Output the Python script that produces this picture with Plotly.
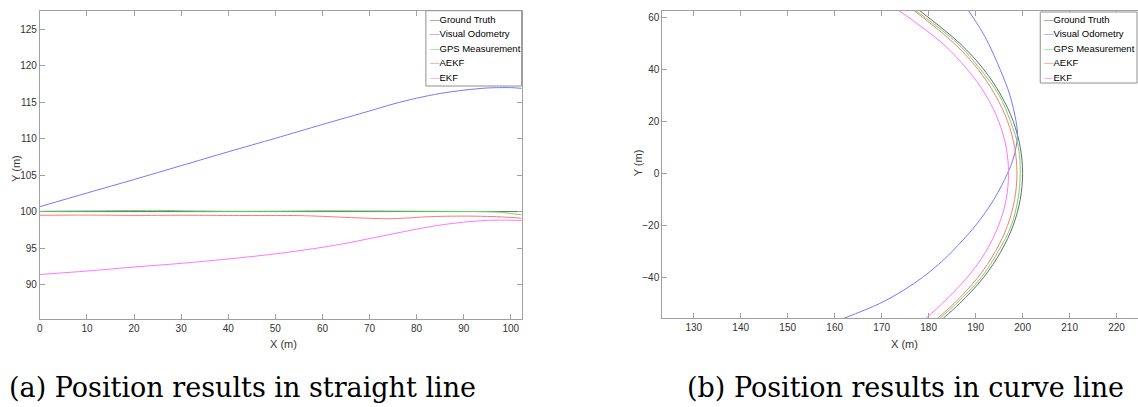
import plotly.graph_objects as go

W, H = 1138, 407

# ---------------- Panel (a): straight line ----------------
a_gt_x = [0, 102.3]
a_gt_y = [100, 100]
a_vo_x = [0, 10, 20, 30, 40, 50, 60, 70, 75, 80, 85, 90, 95, 100, 102.3]
a_vo_y = [100.68, 102.55, 104.4, 106.3, 108.2, 110.05, 111.95, 113.8, 114.75, 115.55, 116.2, 116.65, 116.95, 117.0, 116.9]
a_gps_x = [0, 10, 20, 25, 30, 40, 50, 60, 70, 80, 90, 95, 98, 100, 102.3]
a_gps_y = [100.05, 100.1, 100.15, 100.17, 100.12, 100.05, 100.06, 100.12, 100.1, 100.06, 100.02, 99.98, 99.9, 99.72, 99.57]
a_aekf_x = [0, 10, 20, 30, 40, 50, 55, 60, 65, 70, 74, 78, 82, 86, 91, 96, 100, 102.3]
a_aekf_y = [99.5, 99.52, 99.48, 99.5, 99.47, 99.46, 99.45, 99.35, 99.2, 99.08, 99.02, 99.12, 99.28, 99.36, 99.38, 99.32, 99.2, 99.1]
a_ekf_x = [0, 10, 20, 30, 40, 50, 60, 65, 70, 75, 80, 85, 90, 95, 100, 102.3]
a_ekf_y = [91.37, 91.85, 92.4, 92.9, 93.5, 94.2, 95.1, 95.65, 96.3, 96.95, 97.6, 98.15, 98.55, 98.8, 98.82, 98.78]

# ---------------- Panel (b): curve line ----------------
b_y = [62.5, 50, 40, 30, 20, 10, 0, -10, -20, -30, -40, -50, -55.7]
b_gt_x = [178.1, 186.6, 191.7, 195.4, 198.0, 199.5, 200.0, 199.5, 198.0, 195.4, 191.7, 186.6, 183.1]
b_gps_x = [177.3, 186.1, 191.0, 195.0, 197.4, 199.1, 199.5, 199.0, 197.6, 194.8, 191.2, 185.9, 182.4]
b_aekf_x = [176.9, 185.4, 190.5, 194.2, 196.8, 198.3, 198.8, 198.3, 196.8, 194.2, 190.5, 185.4, 181.9]
b_ekf_x = [173.7, 182.9, 188.2, 192.2, 194.9, 196.5, 197.0, 196.5, 194.9, 192.2, 188.2, 182.9, 179.4]
b_vo_y = [62.5, 55, 50, 40, 30, 20, 15, 10, 5, 0, -10, -20, -30, -35, -40, -45, -50, -55.7]
b_vo_x = [188.5, 191.2, 192.7, 195.2, 197.3, 198.6, 198.9, 198.6, 197.9, 196.8, 193.9, 190.0, 185.0, 182.1, 178.7, 174.6, 169.6, 162.0]

names = ["Ground Truth", "Visual Odometry", "GPS Measurement", "AEKF", "EKF"]
colors = ["#6a6a6a", "#7777ff", "#66dd66", "#ff7777", "#ff77ff"]

FONT = "Liberation Sans Narrow, Arial Narrow, Liberation Sans, Arial, sans-serif"

fig = go.Figure()

a_series = [(a_gt_x, a_gt_y), (a_vo_x, a_vo_y), (a_gps_x, a_gps_y), (a_aekf_x, a_aekf_y), (a_ekf_x, a_ekf_y)]
for (xs, ys), n, c in zip(a_series, names, colors):
    fig.add_trace(go.Scatter(x=xs, y=ys, name=n, mode="lines", line=dict(color=c, width=1, shape="spline", smoothing=0.8),
                             xaxis="x", yaxis="y", showlegend=False))

b_series = [(b_gt_x, b_y), (b_vo_x, b_vo_y), (b_gps_x, b_y), (b_aekf_x, b_y), (b_ekf_x, b_y)]
for (xs, ys), n, c in zip(b_series, names, colors):
    fig.add_trace(go.Scatter(x=xs, y=ys, name=n, mode="lines", line=dict(color=c, width=1, shape="spline", smoothing=1.0),
                             xaxis="x2", yaxis="y2", showlegend=False))

def px(x):
    return x / W

def py(y):
    return 1 - y / H

axcol = "#a0a0a0"
common = dict(showline=True, linecolor=axcol, linewidth=1, ticks="inside", ticklen=5, tickcolor=axcol,
              showgrid=False, zeroline=False, tickfont=dict(family=FONT, size=10, color="#333333"))

fig.update_layout(
    width=W, height=H, margin=dict(l=0, r=0, t=0, b=0),
    paper_bgcolor="white", plot_bgcolor="white",
    xaxis=dict(domain=[px(37), px(520)], range=[0, 102.3], tickvals=list(range(0, 101, 10)), mirror="ticks", **common),
    yaxis=dict(domain=[py(319), py(10.7)], range=[85.27, 127.55], tickvals=list(range(90, 126, 5)), mirror="ticks", **common),
    xaxis2=dict(domain=[px(661), 1.0], range=[123.3, 224.56], tickvals=list(range(130, 221, 10)), mirror="ticks",
                anchor="y2", **common),
    yaxis2=dict(domain=[py(318), py(10.7)], range=[-55.6, 62.5], tickvals=list(range(-40, 61, 20)), mirror=False,
                anchor="x2", **common),
    showlegend=False,
)

ann = []
def label(x, y, text, size, family, color, angle=0):
    ann.append(dict(x=px(x), y=py(y), xref="paper", yref="paper", xanchor="center", yanchor="middle",
                    text=text, showarrow=False, textangle=angle,
                    font=dict(family=family, size=size, color=color)))

# axis titles
label(281, 344, "X (m)", 11, FONT, "#333333")
label(904, 344, "X (m)", 11, FONT, "#333333")
label(13, 168, "Y (m)", 11, FONT, "#333333", -90)
label(637, 163, "Y (m)", 11, FONT, "#333333", -90)

# captions
label(240, 387, "(a) Position results in straight line", 27, "DejaVu Serif, serif", "black")
label(905, 387, "(b) Position results in curve line", 27, "DejaVu Serif, serif", "black")

shapes = []
item_y = [19, 33.7, 48.3, 62.7, 77.3]
for (bx0, by0, bx1, by1, tx) in [(424, 10.7, 520, 86, 426), (1040, 12, 1137, 83, 1042)]:
    shapes.append(dict(type="rect", xref="paper", yref="paper", x0=px(bx0), x1=px(bx1), y0=py(by1), y1=py(by0),
                       line=dict(color="#909090", width=1), fillcolor="white", layer="above"))
    for yy, n, c in zip(item_y, names, colors):
        ann.append(dict(x=px(tx), y=py(yy), xref="paper", yref="paper", xanchor="left", yanchor="middle",
                        text='<span style="color:%s">—</span>%s' % (c, n), showarrow=False,
                        font=dict(family=FONT, size=9.5, color="black")))

fig.update_layout(annotations=ann, shapes=shapes)
fig.write_html("out.html")
